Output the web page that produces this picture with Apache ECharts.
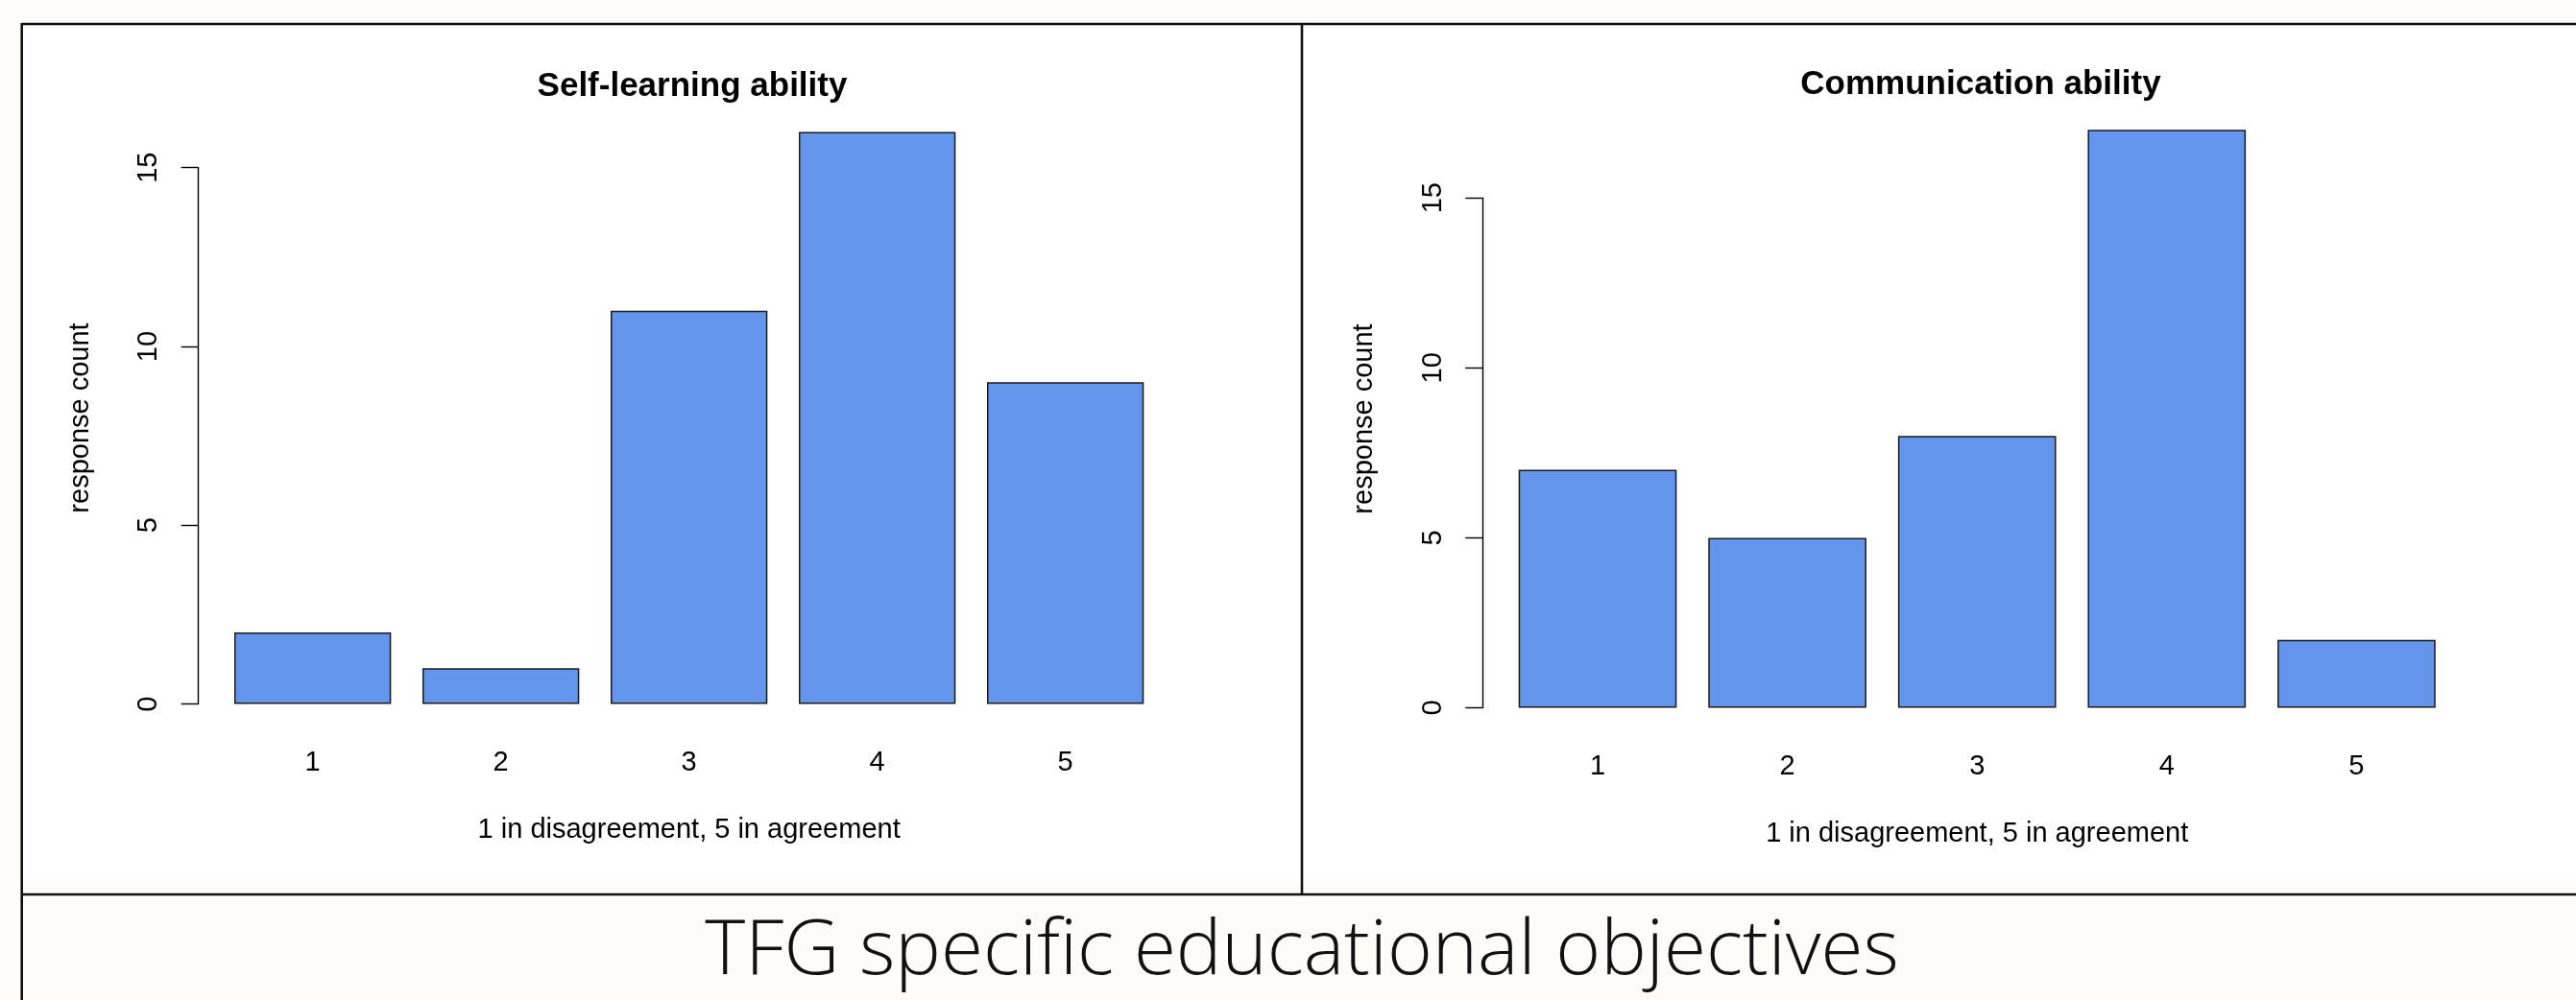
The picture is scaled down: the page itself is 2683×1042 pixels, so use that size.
<!DOCTYPE html>
<html>
<head>
<meta charset="utf-8">
<script src="https://cdn.jsdelivr.net/npm/echarts@6/dist/echarts.min.js"></script>
<style>
html,body{margin:0;padding:0;background:#fdfcf8;}
#chart{width:2683px;height:1042px;}
</style>
</head>
<body>
<div id="chart"></div>
<script>
const categories = ['1', '2', '3', '4', '5'];
const selfLearning = [2, 1, 11, 16, 9];
const communication = [7, 5, 8, 17, 2];
const yTickMax = 15;
const yTickStep = 5;
const titles = ['Self-learning ability', 'Communication ability'];
const xAxisTitle = '1 in disagreement, 5 in agreement';
const yAxisTitle = 'response count';
const caption = 'TFG specific educational objectives';

const FONT = "'Liberation Sans', Arial, Helvetica, sans-serif";
const BAR_COLOR = '#6495ED';

function xAxisCfg(gridIndex) {
  return {
    type: 'category', gridIndex: gridIndex, data: categories,
    axisLine: {show: false}, axisTick: {show: false},
    axisLabel: {margin: 47, fontSize: 29, color: '#000', fontFamily: FONT},
    name: xAxisTitle, nameLocation: 'middle', nameGap: 117,
    nameTextStyle: {fontSize: 29, color: '#000', fontFamily: FONT}
  };
}
function yAxisCfg(gridIndex) {
  return {
    type: 'value', gridIndex: gridIndex, min: 0, max: yTickMax, interval: yTickStep,
    offset: 21,
    axisLine: {show: true, lineStyle: {color: '#000', width: 1.4}},
    axisTick: {show: true, length: 18, lineStyle: {color: '#000', width: 1.4}},
    axisLabel: {rotate: 90, margin: 37, fontSize: 29, color: '#000', fontFamily: FONT},
    splitLine: {show: false}
  };
}
function barSeries(idx, data) {
  return {
    type: 'bar', xAxisIndex: idx, yAxisIndex: idx, data: data,
    barCategoryGap: '16.67%', clip: false, z: 5,
    itemStyle: {color: BAR_COLOR, borderColor: '#1a1a1a', borderWidth: 1.5}
  };
}

const chart = echarts.init(document.getElementById('chart'), null, {renderer: 'canvas'});
chart.setOption({
  animation: false,
  backgroundColor: '#fdfcf8',
  title: [
    {text: titles[0], left: 716, top: 68, textAlign: 'center',
     textStyle: {fontSize: 35, fontWeight: 'bold', color: '#000', fontFamily: FONT}},
    {text: titles[1], left: 2058, top: 66, textAlign: 'center',
     textStyle: {fontSize: 35, fontWeight: 'bold', color: '#000', fontFamily: FONT}}
  ],
  grid: [
    {left: 227.65, top: 174.7, width: 980, height: 558.9},
    {left: 1565.2, top: 206.2, width: 988, height: 531.3}
  ],
  xAxis: [xAxisCfg(0), xAxisCfg(1)],
  yAxis: [yAxisCfg(0), yAxisCfg(1)],
  series: [barSeries(0, selfLearning), barSeries(1, communication)],
  graphic: [
    {type: 'rect', z: -10, silent: true, shape: {x: 24, y: 26.5, width: 2659, height: 890}, style: {fill: '#ffffff'}},
    {type: 'line', z: 20, silent: true, shape: {x1: 22.7, y1: 25, x2: 2683, y2: 25}, style: {stroke: '#111', lineWidth: 2.6}},
    {type: 'line', z: 20, silent: true, shape: {x1: 22.7, y1: 24, x2: 22.7, y2: 1042}, style: {stroke: '#111', lineWidth: 2.6}},
    {type: 'line', z: 20, silent: true, shape: {x1: 1356, y1: 25, x2: 1356, y2: 932}, style: {stroke: '#111', lineWidth: 2.6}},
    {type: 'line', z: 20, silent: true, shape: {x1: 22.7, y1: 932, x2: 2683, y2: 932}, style: {stroke: '#111', lineWidth: 2.6}},
    {type: 'text', z: 20, silent: true, x: 83.7, y: 435.5, rotation: Math.PI / 2,
     style: {text: yAxisTitle, fontSize: 29, fontFamily: FONT, fill: '#000', align: 'center', verticalAlign: 'middle'}},
    {type: 'text', z: 20, silent: true, x: 1421, y: 436.5, rotation: Math.PI / 2,
     style: {text: yAxisTitle, fontSize: 29, fontFamily: FONT, fill: '#000', align: 'center', verticalAlign: 'middle'}},
    {type: 'text', z: 20, silent: true, x: 1356, y: 992,
     style: {text: caption, fontSize: 80, fontWeight: 300, fontFamily: "'Open Sans', 'Noto Sans', sans-serif", fill: '#111', align: 'center', verticalAlign: 'middle'}}
  ]
});
</script>
</body>
</html>
